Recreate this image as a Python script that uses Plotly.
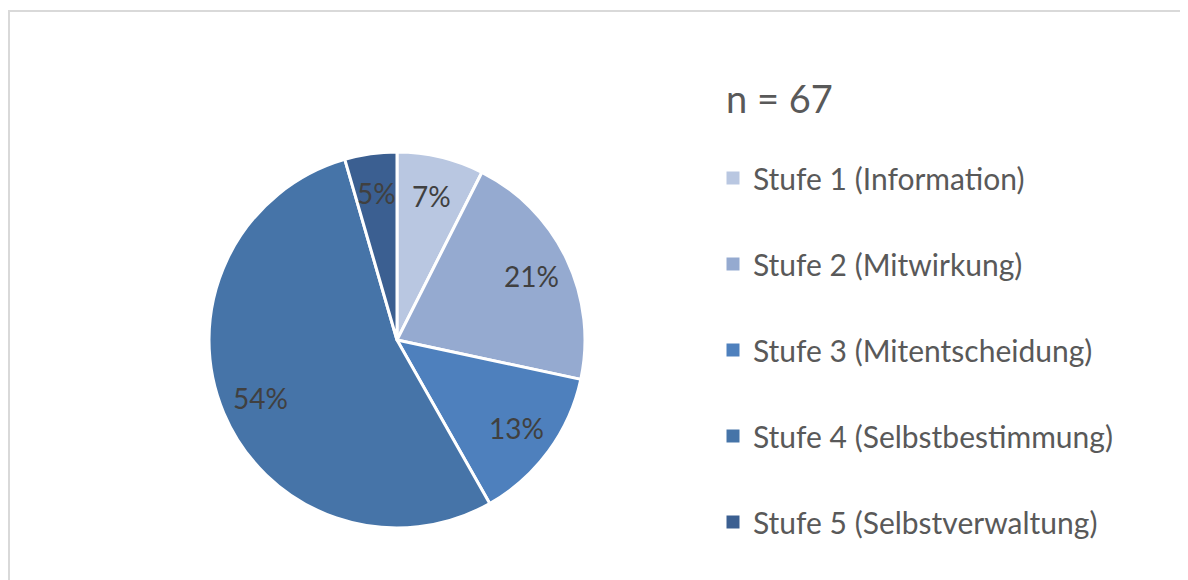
import math
import plotly.graph_objects as go

categories = [
    "Stufe 1 (Information)",
    "Stufe 2 (Mitwirkung)",
    "Stufe 3 (Mitentscheidung)",
    "Stufe 4 (Selbstbestimmung)",
    "Stufe 5 (Selbstverwaltung)",
]
counts = [5, 14, 9, 36, 3]
pct_labels = ["7%", "21%", "13%", "54%", "5%"]
colors = ["#B9C7E1", "#95AAD0", "#4E80BD", "#4674A8", "#3B5F91"]
n_label = "n = 67"

# the page body has an 8px margin; the figure fills the rest of the window
OFF = 8
W, H = 1188 - OFF, 580 - OFF
cx, cy, R = 397 - OFF, 340 - OFF, 188

fig = go.Figure()
fig.add_trace(go.Pie(
    labels=categories,
    values=counts,
    text=pct_labels,
    marker=dict(colors=colors, line=dict(color="white", width=3)),
    sort=False,
    direction="clockwise",
    rotation=0,
    textinfo="none",
    showlegend=False,
    hovertemplate="%{label}: %{text}<extra></extra>",
    domain=dict(x=[(cx - R) / W, (cx + R) / W], y=[(H - cy - R) / H, (H - cy + R) / H]),
))

# data labels placed along each slice's bisector, like Excel's best-fit labels
total = sum(counts)
cum = 0
for v, lab in zip(counts, pct_labels):
    mid = (cum + v / 2) / total * 2 * math.pi
    cum += v
    r = 0.79 * R
    px = cx + r * math.sin(mid)
    py = cy - r * math.cos(mid)
    fig.add_annotation(
        text=lab, xref="paper", yref="paper", x=px / W, y=1 - py / H,
        xanchor="center", yanchor="middle", showarrow=False,
        font=dict(family="Lato", size=28, color="#404040"),
    )

for i, (cat, col) in enumerate(zip(categories, colors)):
    fig.add_trace(go.Scatter(
        x=[None], y=[None], mode="markers", name=cat,
        marker=dict(symbol="square", size=13, color=col),
        legendgroup=f"g{i}", showlegend=True,
    ))

fig.add_annotation(
    text=n_label, xref="paper", yref="paper", x=(724 - OFF) / W, y=1 - (98 - OFF) / H,
    xanchor="left", yanchor="middle", showarrow=False,
    font=dict(family="Lato", size=38, color="#595959"),
)

fig.add_shape(
    type="rect", xref="paper", yref="paper",
    x0=1 / W, x1=1.02, y0=-0.02, y1=1 - 3 / H,
    line=dict(color="#D9D9D9", width=2), fillcolor="rgba(0,0,0,0)", layer="below",
)

fig.update_layout(
    width=W, height=H,
    margin=dict(l=0, r=0, t=0, b=0),
    paper_bgcolor="white", plot_bgcolor="white",
    xaxis=dict(visible=False), yaxis=dict(visible=False),
    legend=dict(
        x=(713 - OFF) / W, y=1 - (152 - OFF) / H, xanchor="left", yanchor="top",
        font=dict(family="Lato", size=30, color="#595959"),
        tracegroupgap=44, traceorder="grouped", itemclick=False,
        bgcolor="rgba(0,0,0,0)",
    ),
)

fig.write_html("out.html")
